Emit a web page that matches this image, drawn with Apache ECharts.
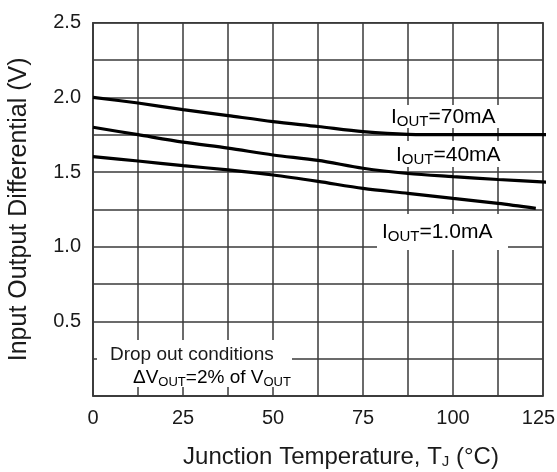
<!DOCTYPE html>
<html>
<head>
<meta charset="utf-8">
<script src="https://cdn.jsdelivr.net/npm/echarts@6/dist/echarts.min.js"></script>
<style>
  html, body { margin: 0; padding: 0; background: #fff; }
  #chart { width: 557px; height: 472px; }
</style>
</head>
<body>
<div id="chart"></div>
<script>
// 读图得到的数据
const temps70 = [0, 12.5, 25, 37.5, 50, 62.5, 75, 87.5, 100, 112.5, 126];
const vout70 = [2.0, 1.962, 1.918, 1.878, 1.838, 1.805, 1.77, 1.752, 1.75, 1.75, 1.75];
const temps40 = [0, 12.5, 25, 37.5, 50, 62.5, 75, 87.5, 100, 112.5, 126];
const vout40 = [1.80, 1.75, 1.70, 1.66, 1.614, 1.578, 1.525, 1.49, 1.469, 1.45, 1.432];
const temps1 = [0, 12.5, 25, 37.5, 50, 62.5, 75, 87.5, 100, 112.5, 123];
const vout1 = [1.603, 1.574, 1.543, 1.514, 1.48, 1.437, 1.39, 1.357, 1.323, 1.29, 1.257];
const xTicks = [0, 25, 50, 75, 100, 125];
const yTicks = [0.5, 1.0, 1.5, 2.0, 2.5];

const font = 'Liberation Sans';
const txt = '#1a1a1a';
const gridColor = '#3a3a3a';

function pairs(xs, ys) {
  return xs.map((x, i) => [x, ys[i]]);
}

// 带下标的标签
const richLabel = {
  b: { fontSize: 21, fontFamily: font, color: txt, lineHeight: 24 },
  s: { fontSize: 15, fontFamily: font, color: txt, lineHeight: 15, verticalAlign: 'bottom' }
};

function boxLabel(x, y, w, h, text, tx, ty) {
  return [
    { type: 'rect', z: 50, shape: { x: x, y: y, width: w, height: h }, style: { fill: '#fff' } },
    { type: 'text', z: 51, x: tx, y: ty,
      style: { text: text, rich: richLabel, verticalAlign: 'middle', align: 'left' } }
  ];
}

const chart = echarts.init(document.getElementById('chart'));
const option = {
  animation: false,
  backgroundColor: '#fff',
  grid: {
    left: 93, right: 14, top: 22.7, bottom: 76,
    containLabel: false, outerBoundsMode: 'none',
    show: true, borderColor: gridColor, borderWidth: 1.5
  },
  xAxis: {
    type: 'value',
    min: 0, max: 125, interval: 12.5,
    name: 'Junction Temperature, T{s|J} (°C)',
    nameLocation: 'middle',
    nameGap: 49,
    nameTextStyle: {
      fontSize: 24, fontFamily: font, color: txt, padding: [0, 0, 0, 46],
      rich: { s: { fontSize: 15, fontFamily: font, color: txt, verticalAlign: 'bottom', lineHeight: 15 } }
    },
    axisLine: { show: true, lineStyle: { color: gridColor, width: 1.5 } },
    axisTick: { show: false },
    splitLine: { show: true, lineStyle: { color: gridColor, width: 1.5 } },
    axisLabel: {
      fontSize: 20, fontFamily: font, color: txt, margin: 12,
      formatter: v => {
        if (!xTicks.includes(v)) return '';
        // 最右端的标签往左挪一点，不被裁掉
        return v === 125 ? '{r|125}' : String(v);
      },
      rich: { r: { fontSize: 20, fontFamily: font, color: txt, padding: [0, 9, 0, 0] } }
    }
  },
  yAxis: {
    type: 'value',
    min: 0, max: 2.5, interval: 0.25,
    name: 'Input Output Differential (V)',
    nameLocation: 'middle',
    nameGap: 61,
    nameTextStyle: { fontSize: 25, fontFamily: font, color: txt },
    axisLine: { show: true, lineStyle: { color: gridColor, width: 1.5 } },
    axisTick: { show: false },
    splitLine: { show: true, lineStyle: { color: gridColor, width: 1.5 } },
    axisLabel: {
      fontSize: 20, fontFamily: font, color: txt, margin: 12,
      formatter: v => yTicks.some(t => Math.abs(t - v) < 1e-6) ? v.toFixed(1) : ''
    }
  },
  series: [
    { type: 'line', data: pairs(temps70, vout70), smooth: 0.3, showSymbol: false, clip: false, z: 60,
      lineStyle: { color: '#000', width: 3.2 } },
    { type: 'line', data: pairs(temps40, vout40), smooth: 0.3, showSymbol: false, clip: false, z: 60,
      lineStyle: { color: '#000', width: 3.2 } },
    { type: 'line', data: pairs(temps1, vout1), smooth: 0.3, showSymbol: false, clip: false, z: 60,
      lineStyle: { color: '#000', width: 3.2 } }
  ],
  graphic: [].concat(
    boxLabel(386, 105, 118, 23, '{b|I}{s|OUT}{b|=70mA}', 391, 117),
    boxLabel(391, 141, 118, 26, '{b|I}{s|OUT}{b|=40mA}', 396, 155),
    boxLabel(377, 214, 131, 36, '{b|I}{s|OUT}{b|=1.0mA}', 382, 232),
    [
      { type: 'rect', z: 50, shape: { x: 97, y: 340, width: 195, height: 47 }, style: { fill: '#fff' } },
      { type: 'text', z: 51, x: 110, y: 355,
        style: { text: 'Drop out conditions', font: '19px "Liberation Sans"', fill: txt, verticalAlign: 'middle' } },
      { type: 'text', z: 51, x: 133, y: 378,
        style: { text: '{b|ΔV}{s|OUT}{b|=2% of V}{s|OUT}',
          rich: {
            b: { fontSize: 19, fontFamily: font, color: txt, lineHeight: 22 },
            s: { fontSize: 13, fontFamily: font, color: txt, lineHeight: 13, verticalAlign: 'bottom' }
          },
          verticalAlign: 'middle' } }
    ]
  )
};
chart.setOption(option);
</script>
</body>
</html>
